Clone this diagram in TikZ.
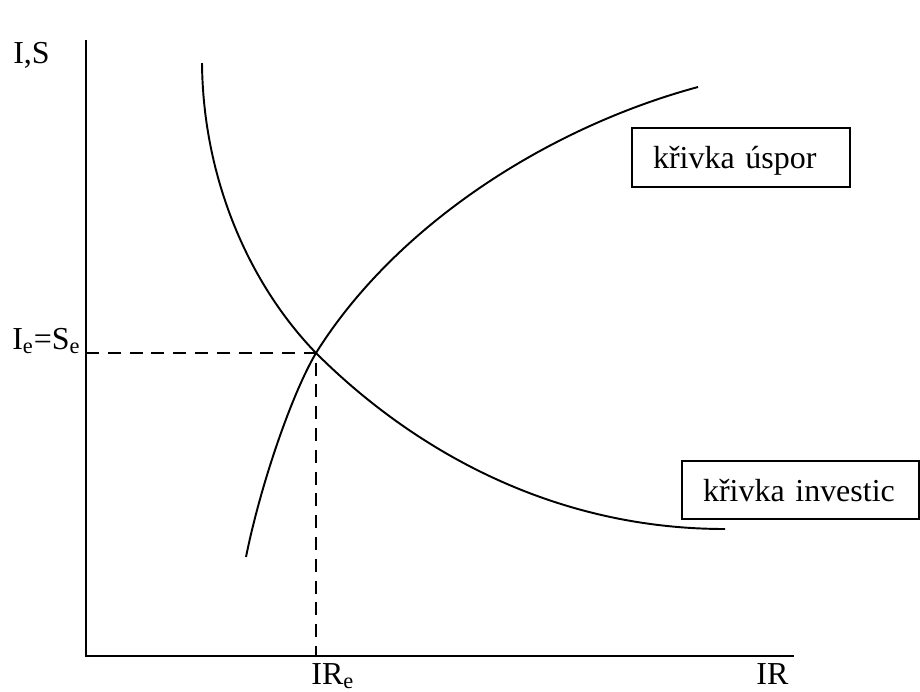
\documentclass[tikz,border=0pt]{standalone}
\usepackage{fontspec}
\setmainfont{Liberation Serif}
\usepackage{tikz}
\usetikzlibrary{positioning}

\begin{document}
\begin{tikzpicture}[
  x=0.02cm, y=-0.02cm,
  every node/.style = {font=\fontsize{18.2}{22}\selectfont, inner sep=0pt},
  axis/.style  = {line width=1.1pt},
  curve/.style = {line width=1.1pt},
  guide/.style = {line width=1.1pt, dash pattern=on 7.4pt off 5pt},
  lbox/.style  = {draw, line width=1.1pt, align=left, inner xsep=0.42cm,
                  text depth=0pt},
]
\useasboundingbox (0,0) rectangle (920,691);

%% ---------- OSY ----------
\coordinate (O)    at (86,656);
\coordinate (Ytop) at (86,40);
\coordinate (Xend) at (794,656);
\draw[axis] (Ytop) -- (O) -- (Xend);

\node[anchor=base west] (LIS)  at (13,63)  {I,S};
\node[anchor=base west] (LIR)  at (756,684) {IR};

%% ---------- KŘIVKY ----------
\coordinate (E)  at (316,353);

% investice
\coordinate (I0) at (202,63);
\coordinate (I1) at (725,529);
\draw[curve] (I0) .. controls (203,180) and (250,285) .. (E)
                  .. controls (406,443) and (545,529) .. (I1);

% úspory
\coordinate (S0) at (246,557);
\coordinate (S1) at (698,87);
\draw[curve] (S0) .. controls (260,487) and (291,395.5) .. (E)
                  .. controls (396,225) and (548,127.5) .. (S1);

%% ---------- ROVNOVÁHA ----------
\coordinate (Ey) at (86,353);
\coordinate (Ex) at (316,656);
\draw[guide] (Ey) -- (E) -- (Ex);

\node[anchor=base west] (LE)   at (12,349)  {I\textsubscript{e}=S\textsubscript{e}};
\node[anchor=base west] (LIRe) at (311,684) {IR\textsubscript{e}};

%% ---------- POPISKY ----------
\node[lbox, text width=3.52cm, minimum height=1.18cm] (S) at (741,157.5) {křivka úspor};
\node[lbox, text width=3.90cm, minimum height=1.16cm] (I) at (800.5,490) {křivka investic};

\end{tikzpicture}
\end{document}
